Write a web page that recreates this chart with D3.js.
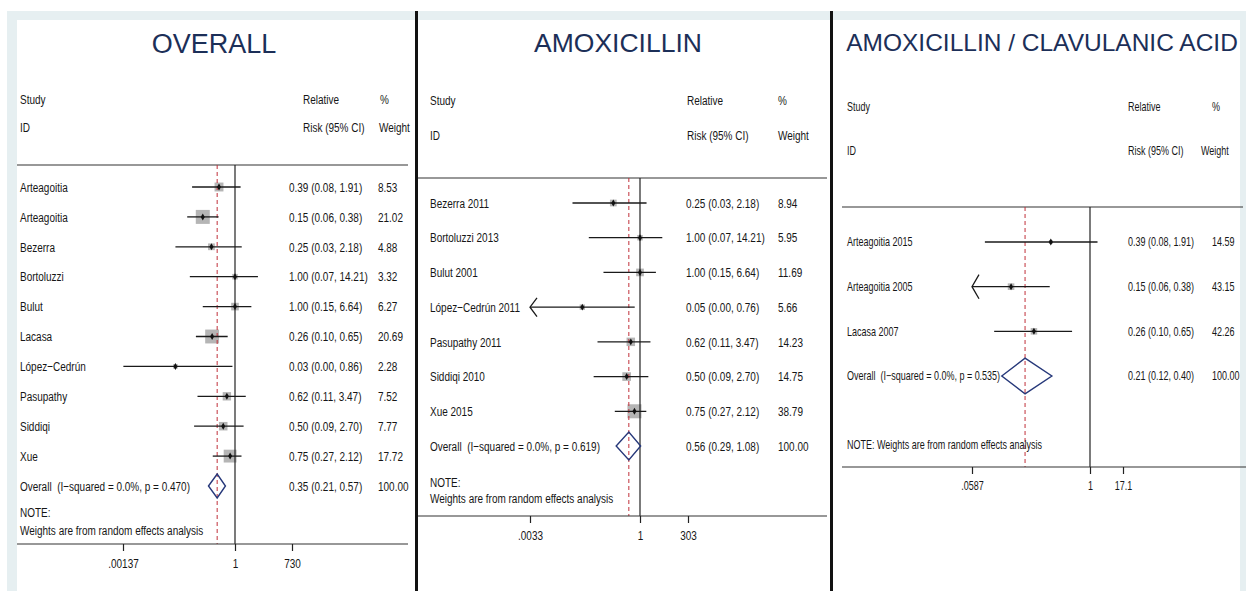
<!DOCTYPE html>
<html>
<head>
<meta charset="utf-8">
<script src="https://cdn.jsdelivr.net/npm/d3@7"></script>
<style>
  html, body { margin: 0; padding: 0; background: #fff; }
  svg { display: block; }
  text { white-space: pre; }
</style>
</head>
<body>
<svg id="chart" width="1246" height="591"></svg>
<script>
// ---- Overall meta-analysis ----
const overallStudies = ["Arteagoitia", "Arteagoitia", "Bezerra", "Bortoluzzi", "Bulut", "Lacasa", "López\u2212Cedrún", "Pasupathy", "Siddiqi", "Xue"];
const overallRR   = [0.39, 0.15, 0.25, 1.00, 1.00, 0.26, 0.03, 0.62, 0.50, 0.75];
const overallLow  = [0.08, 0.06, 0.03, 0.07, 0.15, 0.10, 0.0014, 0.11, 0.09, 0.27];
const overallHigh = [1.91, 0.38, 2.18, 14.21, 6.64, 0.65, 0.86, 3.47, 2.70, 2.12];
const overallWeight = [8.53, 21.02, 4.88, 3.32, 6.27, 20.69, 2.28, 7.52, 7.77, 17.72];
const overallPooled = [0.35, 0.21, 0.57];
const overallPooledWeight = 100.00;
const overallHet = "(I\u2212squared = 0.0%, p = 0.470)";
const overallTicks = [0.00137, 1, 730];
const overallTickLabels = [".00137", "1", "730"];

// ---- Amoxicillin ----
const amoxStudies = ["Bezerra 2011", "Bortoluzzi 2013", "Bulut 2001", "López\u2212Cedrún 2011", "Pasupathy 2011", "Siddiqi 2010", "Xue 2015"];
const amoxRR   = [0.25, 1.00, 1.00, 0.05, 0.62, 0.50, 0.75];
const amoxLow  = [0.03, 0.07, 0.15, 0.0033, 0.11, 0.09, 0.27];
const amoxHigh = [2.18, 14.21, 6.64, 0.76, 3.47, 2.70, 2.12];
const amoxWeight = [8.94, 5.95, 11.69, 5.66, 14.23, 14.75, 38.79];
const amoxPooled = [0.56, 0.29, 1.08];
const amoxPooledWeight = 100.00;
const amoxHet = "(I\u2212squared = 0.0%, p = 0.619)";
const amoxTicks = [0.0033, 1, 303];
const amoxTickLabels = [".0033", "1", "303"];

// ---- Amoxicillin / clavulanic acid ----
const clavStudies = ["Arteagoitia 2015", "Arteagoitia 2005", "Lacasa 2007"];
const clavRR   = [0.39, 0.15, 0.26];
const clavLow  = [0.08, 0.0587, 0.10];
const clavHigh = [1.91, 0.38, 0.65];
const clavWeight = [14.59, 43.15, 42.26];
const clavPooled = [0.21, 0.12, 0.40];
const clavPooledWeight = 100.00;
const clavHet = "(I\u2212squared = 0.0%, p = 0.535)";
const clavTicks = [0.0587, 1, 17.1];
const clavTickLabels = [".0587", "1", "17.1"];

const titles = ["OVERALL", "AMOXICILLIN", "AMOXICILLIN / CLAVULANIC ACID"];
const headerLeft = ["Study", "ID"];
const headerMid = ["Relative", "Risk (95% CI)"];
const headerRight = ["%", "Weight"];
const noteText = ["NOTE:", "Weights are from random effects analysis"];

const SANS = '"Liberation Sans", Arial, Helvetica, sans-serif';
const INK = "#161616";
const NAVY = "#1c2f58";

const svg = d3.select("#chart");

// page frame and panel backgrounds
svg.append("rect").attr("x", 7).attr("y", 11).attr("width", 1239).attr("height", 580).attr("fill", "#e6eff1");
[[17, 20, 398, 571], [418, 20, 412, 571], [833, 20, 407, 571]].forEach(([x, y, w, h]) =>
  svg.append("rect").attr("x", x).attr("y", y).attr("width", w).attr("height", h).attr("fill", "#fff"));
[415, 830].forEach(x =>
  svg.append("rect").attr("x", x).attr("y", 11).attr("width", 3).attr("height", 580).attr("fill", "#111"));

const fmt = d3.format(".2f");

const panels = [
  {
    studies: overallStudies, rr: overallRR, lo: overallLow, hi: overallHigh, wt: overallWeight,
    pooled: overallPooled, pooledWt: overallPooledWeight, het: overallHet,
    ticks: overallTicks, tickLabels: overallTickLabels,
    title: titles[0], titleX: 214, titleY: 53, titleSize: 27,
    fs: 13.5, squeeze: 0.74, labelX: 20, midX: 303, rightX: [380, 379], estX: 289, wtX: 378,
    headY: [99, 127], headLineY: 165, lineX: [17, 408],
    rowFirst: 187, rowLast: 486, noteSplit: true, noteY: [512, 530],
    axisY: 544, axisX: [17, 408], range: [123, 235, 292], sqMax: 30.5, arrow: false
  },
  {
    studies: amoxStudies, rr: amoxRR, lo: amoxLow, hi: amoxHigh, wt: amoxWeight,
    pooled: amoxPooled, pooledWt: amoxPooledWeight, het: amoxHet,
    ticks: amoxTicks, tickLabels: amoxTickLabels,
    title: titles[1], titleX: 618, titleY: 52, titleSize: 26.5,
    fs: 13.5, squeeze: 0.74, labelX: 430, midX: 687, rightX: [778, 778], estX: 686, wtX: 778,
    headY: [100, 135], headLineY: 178, lineX: [418, 827],
    rowFirst: 203, rowLast: 446, noteSplit: true, noteY: [482, 498],
    axisY: 516, axisX: [418, 827], range: [530, 640, 688], sqMax: 22.5, arrow: true
  },
  {
    studies: clavStudies, rr: clavRR, lo: clavLow, hi: clavHigh, wt: clavWeight,
    pooled: clavPooled, pooledWt: clavPooledWeight, het: clavHet,
    ticks: clavTicks, tickLabels: clavTickLabels,
    title: titles[2], titleX: 1042, titleY: 51, titleSize: 24.5,
    fs: 12.5, squeeze: 0.72, labelX: 847, midX: 1128, rightX: [1212, 1201], estX: 1128, wtX: 1212,
    headY: [107, 151], headLineY: 207, lineX: [842, 1243],
    rowFirst: 242, rowLast: 376, noteSplit: false, noteY: [445],
    axisY: 467, axisX: [842, 1246], range: [972, 1090, 1123], sqMax: 10, arrow: true
  }
];

function drawPanel(p) {
  const g = svg.append("g");
  const n = p.studies.length;

  // polylinear log scale through the lower tick, the null value and the upper tick
  const x = d3.scaleLog().domain(p.ticks).range(p.range);
  const y = d3.scalePoint().domain(d3.range(n + 1)).range([p.rowFirst, p.rowLast]);
  const side = d3.scaleSqrt().domain([0, 100]).range([0, p.sqMax]);
  const step = y.step();

  // narrow sans text: a regular face squeezed horizontally
  const label = (xx, yy, t) =>
    g.append("text").attr("transform", `translate(${xx},${yy}) scale(${p.squeeze},1)`)
      .attr("dy", "0.35em")
      .attr("font-family", SANS).attr("font-size", p.fs).attr("fill", INK).text(t);

  // title
  g.append("text").attr("x", p.titleX).attr("y", p.titleY).attr("text-anchor", "middle")
    .attr("font-family", SANS).attr("font-size", p.titleSize).attr("fill", NAVY).text(p.title);

  // column headers
  headerLeft.forEach((t, i) => label(p.labelX, p.headY[i], t));
  headerMid.forEach((t, i) => label(p.midX, p.headY[i], t));
  headerRight.forEach((t, i) => label(p.rightX[i], p.headY[i], t));

  g.append("line").attr("x1", p.lineX[0]).attr("x2", p.lineX[1])
    .attr("y1", p.headLineY).attr("y2", p.headLineY).attr("stroke", "#333").attr("stroke-width", 1.2);

  // weight squares
  g.selectAll("rect.sq").data(d3.range(n)).join("rect").attr("class", "sq")
    .attr("x", i => x(p.rr[i]) - side(p.wt[i]) / 2)
    .attr("y", i => y(i) - side(p.wt[i]) / 2)
    .attr("width", i => side(p.wt[i])).attr("height", i => side(p.wt[i]))
    .attr("fill", "#b5b5b5");

  // pooled estimate reference (dashed) and null line
  g.append("line").attr("x1", x(p.pooled[0])).attr("x2", x(p.pooled[0]))
    .attr("y1", p.headLineY).attr("y2", p.axisY)
    .attr("stroke", "#c0303a").attr("stroke-width", 1).attr("stroke-dasharray", "4,3");
  g.append("line").attr("x1", x(1)).attr("x2", x(1))
    .attr("y1", p.headLineY).attr("y2", p.axisY).attr("stroke", "#222").attr("stroke-width", 1.2);

  // confidence intervals, with an arrow where the lower limit runs off the axis
  const lowEdge = p.ticks[0];
  d3.range(n).forEach(i => {
    const clipped = p.arrow && p.lo[i] <= lowEdge;
    const xl = clipped ? x(lowEdge) : x(p.lo[i]);
    g.append("line").attr("x1", xl).attr("x2", x(p.hi[i]))
      .attr("y1", y(i)).attr("y2", y(i)).attr("stroke", "#1a1a1a").attr("stroke-width", 1.3);
    if (clipped) {
      const ah = step * 0.27;
      g.append("path")
        .attr("d", `M${xl + 7},${y(i) - ah} L${xl},${y(i)} L${xl + 7},${y(i) + ah}`)
        .attr("fill", "none").attr("stroke", "#1a1a1a").attr("stroke-width", 1.3);
    }
  });

  // point estimates
  g.selectAll("path.pt").data(d3.range(n)).join("path").attr("class", "pt")
    .attr("transform", i => `translate(${x(p.rr[i])},${y(i)})`)
    .attr("d", d3.symbol(d3.symbolDiamond).size(14)).attr("fill", "#111");

  // pooled diamond
  const yo = y(n), hh = step * 0.4;
  g.append("path")
    .attr("d", `M${x(p.pooled[1])},${yo} L${x(p.pooled[0])},${yo - hh} L${x(p.pooled[2])},${yo} L${x(p.pooled[0])},${yo + hh} Z`)
    .attr("fill", "none").attr("stroke", "#26387a").attr("stroke-width", 1.4);

  // row labels, estimates and weights
  const rowLabel = i => i < n ? p.studies[i] : "Overall  " + p.het;
  const est = i => {
    const v = i < n ? [p.rr[i], p.lo[i], p.hi[i]] : p.pooled;
    return `${fmt(v[0])} (${fmt(v[1])}, ${fmt(v[2])})`;
  };
  const wtxt = i => fmt(i < n ? p.wt[i] : p.pooledWt);
  d3.range(n + 1).forEach(i => {
    label(p.labelX, y(i), rowLabel(i));
    label(p.estX, y(i), est(i));
    label(p.wtX, y(i), wtxt(i));
  });

  // note
  const notes = p.noteSplit ? noteText : [noteText.join(" ")];
  notes.forEach((t, i) => label(p.labelX, p.noteY[i], t));

  // x axis
  g.append("line").attr("x1", p.axisX[0]).attr("x2", p.axisX[1])
    .attr("y1", p.axisY).attr("y2", p.axisY).attr("stroke", "#333").attr("stroke-width", 1.2);
  const axis = d3.axisBottom(x).tickValues(p.ticks)
    .tickFormat((d, i) => p.tickLabels[i]).tickSize(7).tickSizeOuter(0).tickPadding(7);
  const ag = g.append("g").attr("transform", `translate(0,${p.axisY})`).call(axis);
  ag.select(".domain").remove();
  ag.selectAll(".tick line").attr("stroke", "#222").attr("stroke-width", 1.2);
  ag.selectAll(".tick text").attr("font-family", SANS).attr("font-size", p.fs).attr("fill", INK)
    .attr("transform", `scale(${p.squeeze},1)`);
}

panels.forEach(drawPanel);
</script>
</body>
</html>
